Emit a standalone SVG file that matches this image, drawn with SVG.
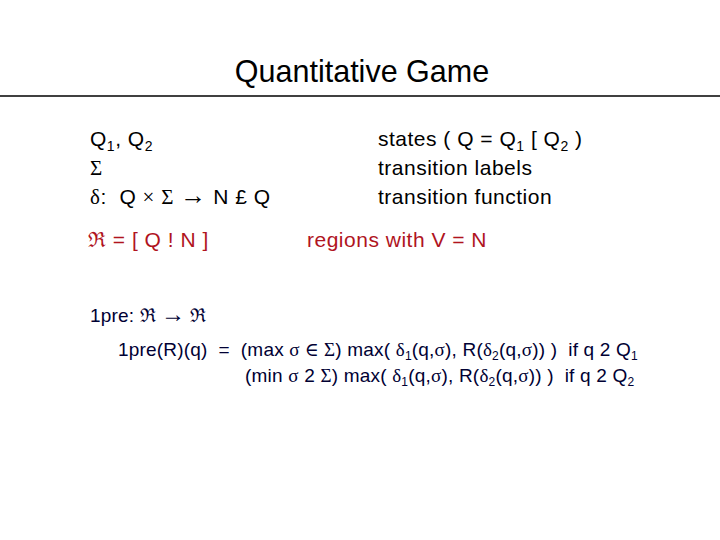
<svg xmlns="http://www.w3.org/2000/svg" width="720" height="540" viewBox="0 0 720 540">
<style>
text{font-family:"Liberation Sans",Arial,sans-serif}
.t{font-size:21px;fill:#000;letter-spacing:0.5px}
.s{font-family:"Liberation Serif","DejaVu Serif",serif}
.r{font-size:21px;fill:#b0141e;letter-spacing:0.5px}
.b{font-size:19px;fill:#000033;letter-spacing:0.2px}
</style>
<rect width="720" height="540" fill="#fff"/>
<text x="362" y="82" font-size="30.5" text-anchor="middle">Quantitative Game</text>
<line x1="0" y1="96" x2="720" y2="96" stroke="#000" stroke-width="1.5"/>
<text class="t" x="90" y="146">Q<tspan font-size="14" dy="5">1</tspan><tspan dy="-5">, Q</tspan><tspan font-size="14" dy="5">2</tspan></text>
<text class="t s" x="90" y="175">Σ</text>
<text class="t" x="90" y="204"><tspan class="s">δ</tspan>:&#160; Q <tspan class="s">×</tspan> <tspan class="s">Σ</tspan> <tspan class="s" font-size="26">→</tspan> N £ Q</text>
<text class="t" x="378" y="146">states ( Q = Q<tspan font-size="14" dy="5">1</tspan><tspan dy="-5">&#160;[ Q</tspan><tspan font-size="14" dy="5">2</tspan><tspan dy="-5">&#160;)</tspan></text>
<text class="t" x="378" y="175">transition labels</text>
<text class="t" x="378" y="204">transition function</text>
<text class="r" x="88" y="247"><tspan class="s">ℜ</tspan> = [ Q ! N ]</text>
<text class="r" x="307" y="247">regions with V = N</text>
<text class="b" x="90" y="322">1pre: <tspan class="s">ℜ <tspan font-size="24">→</tspan> ℜ</tspan></text>
<text class="b" x="118" y="356">1pre(R)(q)&#160; =&#160; (max <tspan class="s">σ ∈ Σ</tspan>) max( <tspan class="s">δ</tspan><tspan font-size="12" dy="4">1</tspan><tspan dy="-4">(q,</tspan><tspan class="s">σ</tspan>), R(<tspan class="s">δ</tspan><tspan font-size="12" dy="4">2</tspan><tspan dy="-4">(q,</tspan><tspan class="s">σ</tspan>)) )&#160; if q 2 Q<tspan font-size="12" dy="4">1</tspan></text>
<text class="b" x="245" y="382">(min <tspan class="s">σ</tspan> 2 <tspan class="s">Σ</tspan>) max( <tspan class="s">δ</tspan><tspan font-size="12" dy="4">1</tspan><tspan dy="-4">(q,</tspan><tspan class="s">σ</tspan>), R(<tspan class="s">δ</tspan><tspan font-size="12" dy="4">2</tspan><tspan dy="-4">(q,</tspan><tspan class="s">σ</tspan>)) )&#160; if q 2 Q<tspan font-size="12" dy="4">2</tspan></text>
</svg>
